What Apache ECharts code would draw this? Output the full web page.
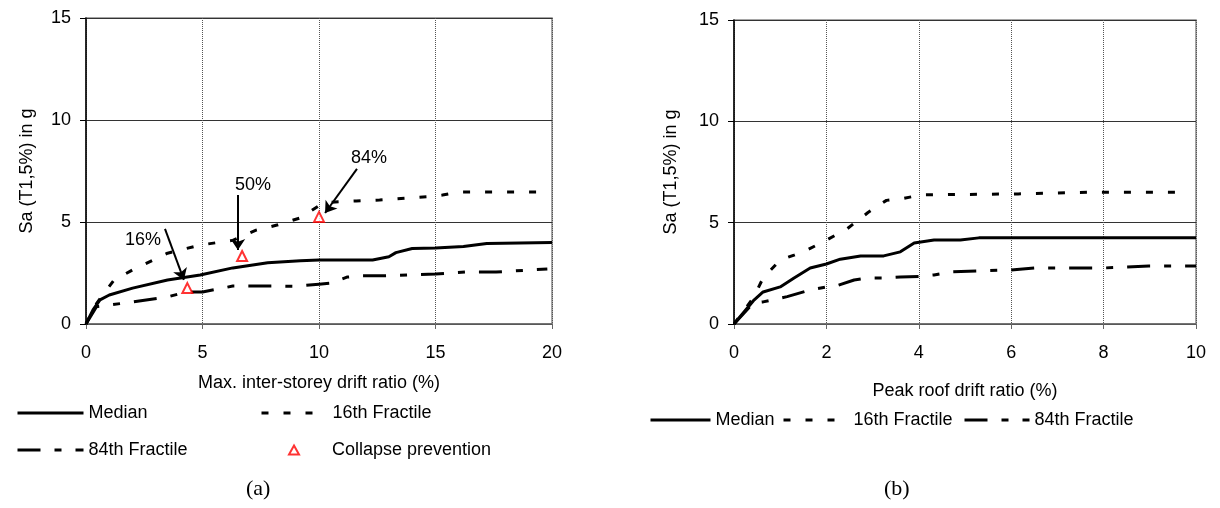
<!DOCTYPE html>
<html>
<head>
<meta charset="utf-8">
<script src="https://cdn.jsdelivr.net/npm/echarts@6/dist/echarts.min.js"></script>
<style>
html,body{margin:0;padding:0;background:#fff;}
#chart{width:1220px;height:508px;}
</style>
</head>
<body>
<div id="chart"></div>
<script>
// ---------- Data (a): Max. inter-storey drift ratio ----------
var medianA_x = [0, 0.3, 0.6, 1.0, 2.0, 3.5, 4.9, 6.3, 7.8, 9.2, 10.0, 12.3, 13.0, 13.3, 14.0, 15.0, 16.2, 17.2, 20.0];
var medianA_y = [0, 0.69, 1.18, 1.42, 1.76, 2.16, 2.4, 2.75, 3.0, 3.1, 3.14, 3.14, 3.3, 3.5, 3.7, 3.72, 3.8, 3.95, 4.0];
var frac16A_x = [0, 0.45, 1.2, 2.0, 3.5, 4.9, 6.3, 7.3, 8.2, 9.2, 10.2, 11.6, 12.6, 15.0, 15.3, 16.0, 19.4];
var frac16A_y = [0, 1.0, 2.15, 2.65, 3.47, 3.87, 4.1, 4.6, 4.85, 5.2, 5.95, 6.03, 6.08, 6.27, 6.32, 6.47, 6.47];
var frac84A_x = [0, 0.45, 1.0, 2.0, 3.5, 4.3, 5.0, 6.3, 8.3, 9.0, 10.0, 10.5, 11.2, 11.8, 12.8, 15.0, 16.3, 17.6, 19.8];
var frac84A_y = [0, 0.85, 0.93, 1.08, 1.33, 1.57, 1.57, 1.86, 1.86, 1.85, 1.95, 2.0, 2.3, 2.36, 2.36, 2.45, 2.55, 2.55, 2.7];
var collapseA_x = [4.35, 6.7, 10.0];
var collapseA_y = [1.76, 3.33, 5.25];

// annotations (a)
var annotLabels = ['16%', '50%', '84%'];
var annotLabel_x = [2.45, 7.17, 12.15];
var annotLabel_y = [4.1, 6.8, 8.14];
var arrowFrom_x = [3.39, 6.52, 11.63];
var arrowFrom_y = [4.66, 6.32, 7.6];
var arrowTo_x = [4.2, 6.52, 10.26];
var arrowTo_y = [2.16, 3.63, 5.44];

// ---------- Data (b): Peak roof drift ratio ----------
var medianB_x = [0, 0.42, 0.63, 1.0, 1.3, 1.65, 2.0, 2.3, 2.74, 3.24, 3.6, 3.9, 4.33, 4.9, 5.3, 10.0];
var medianB_y = [0, 1.15, 1.58, 1.83, 2.27, 2.76, 2.96, 3.2, 3.36, 3.36, 3.56, 4.0, 4.15, 4.15, 4.25, 4.25];
var frac16B_x = [0, 0.42, 0.63, 1.0, 1.3, 1.58, 2.0, 2.45, 2.9, 3.3, 3.67, 4.05, 6.15, 7.67, 9.76];
var frac16B_y = [0, 1.3, 2.27, 3.16, 3.4, 3.65, 4.14, 4.7, 5.5, 6.1, 6.2, 6.37, 6.42, 6.5, 6.5];
var frac84B_x = [0, 0.42, 0.63, 1.15, 1.65, 2.0, 2.15, 2.6, 2.9, 3.24, 3.6, 4.0, 4.33, 4.7, 6.0, 6.5, 7.96, 8.98, 10.0];
var frac84B_y = [0, 1.04, 1.09, 1.35, 1.68, 1.83, 1.83, 2.17, 2.27, 2.27, 2.32, 2.35, 2.42, 2.57, 2.67, 2.76, 2.76, 2.86, 2.86];

// axis ticks
var yTicks = [0, 5, 10, 15];
var xTicksA = [0, 5, 10, 15, 20];
var xTicksB = [0, 2, 4, 6, 8, 10];

var seriesNames = ['Median', '16th Fractile', '84th Fractile', 'Collapse prevention'];
var xNameA = 'Max. inter-storey drift ratio (%)';
var xNameB = 'Peak roof drift ratio (%)';
var yName = 'Sa (T1,5%) in g';

function zip(xs, ys) { return xs.map(function (x, i) { return [x, ys[i]]; }); }

var FONT = '"Liberation Sans", Arial, sans-serif';
var dash16 = [7, 15];
var dash84 = [23, 14, 7, 14];

function xAxisOf(gi, ticks, name, gap) {
  return {
    gridIndex: gi, type: 'value', min: ticks[0], max: ticks[ticks.length - 1],
    interval: ticks[1] - ticks[0],
    name: name, nameLocation: 'middle', nameGap: gap,
    nameTextStyle: { fontFamily: FONT, fontSize: 18, color: '#000' },
    axisLine: { show: true, onZero: false, lineStyle: { color: '#666', width: 1.5 } },
    axisTick: { show: true, inside: false, length: 5, lineStyle: { color: '#666', width: 1 } },
    axisLabel: { fontFamily: FONT, fontSize: 18, color: '#000', margin: 20 },
    splitLine: { show: true, lineStyle: { color: '#555', width: 1, type: [1, 1] } }
  };
}
function yAxisOf(gi, gap) {
  return {
    gridIndex: gi, type: 'value', min: yTicks[0], max: yTicks[yTicks.length - 1], interval: 5,
    name: yName, nameLocation: 'middle', nameGap: gap,
    nameTextStyle: { fontFamily: FONT, fontSize: 18, color: '#000' },
    axisLine: { show: true, onZero: false, lineStyle: { color: '#000', width: 1.5 } },
    axisTick: { show: true, inside: false, length: 6, lineStyle: { color: '#000', width: 1 } },
    axisLabel: { fontFamily: FONT, fontSize: 18, color: '#000', margin: 15 },
    splitLine: { show: true, lineStyle: { color: '#333', width: 1, type: 'solid' } }
  };
}
function lineSeries(name, gi, xs, ys, type) {
  return {
    name: name, type: 'line', xAxisIndex: gi, yAxisIndex: gi,
    data: zip(xs, ys), showSymbol: false, symbol: 'none', smooth: false,
    lineStyle: { color: '#000', width: 3, type: type },
    itemStyle: { color: '#000' },
    clip: true, z: 3
  };
}

var markLineData = arrowFrom_x.map(function (x, i) {
  return [{ coord: [x, arrowFrom_y[i]] }, { coord: [arrowTo_x[i], arrowTo_y[i]] }];
});

var legendBase = {
  orient: 'horizontal', itemGap: 5, selectedMode: false, padding: 0,
  textStyle: { fontFamily: FONT, fontSize: 18, color: '#000' }
};
function lineLegend(name, left, top, w) {
  return Object.assign({}, legendBase, {
    data: [name], left: left, top: top, itemWidth: w, itemHeight: 14,
    itemStyle: { color: 'rgba(0,0,0,0)', borderWidth: 0, opacity: 0 },
    lineStyle: { width: 3, color: '#000' }
  });
}

var option = {
  animation: false,
  backgroundColor: '#fff',
  textStyle: { fontFamily: FONT },
  grid: [
    { left: 86, top: 18, width: 466, height: 306, show: true, borderColor: '#888', borderWidth: 1.5, backgroundColor: 'transparent' },
    { left: 734, top: 20, width: 462, height: 304, show: true, borderColor: '#888', borderWidth: 1.5, backgroundColor: 'transparent' }
  ],
  xAxis: [xAxisOf(0, xTicksA, xNameA, 50), xAxisOf(1, xTicksB, xNameB, 58)],
  yAxis: [yAxisOf(0, 50), yAxisOf(1, 54)],
  legend: [
    lineLegend(seriesNames[0], 16, 404, 66),
    lineLegend(seriesNames[1], 260, 404, 66),
    lineLegend(seriesNames[2], 16, 441, 66),
    Object.assign({}, legendBase, {
      data: [seriesNames[3]], left: 288, top: 441, itemWidth: 10, itemHeight: 9,
      textStyle: { fontFamily: FONT, fontSize: 18, color: '#000', padding: [0, 0, 0, 28] }
    }),
    lineLegend(seriesNames[0], 649, 411, 60),
    lineLegend(seriesNames[1], 782, 411, 65),
    lineLegend(seriesNames[2], 963, 411, 65)
  ],
  graphic: [
    { type: 'text', left: 246, top: 478, style: { text: '(a)', font: '22px "Liberation Serif", "Times New Roman", serif', fill: '#000' } },
    { type: 'text', left: 884, top: 478, style: { text: '(b)', font: '22px "Liberation Serif", "Times New Roman", serif', fill: '#000' } }
  ],
  series: [
    lineSeries(seriesNames[0], 0, medianA_x, medianA_y, 'solid'),
    lineSeries(seriesNames[1], 0, frac16A_x, frac16A_y, dash16),
    lineSeries(seriesNames[2], 0, frac84A_x, frac84A_y, dash84),
    {
      name: seriesNames[3], type: 'scatter', xAxisIndex: 0, yAxisIndex: 0,
      data: zip(collapseA_x, collapseA_y), symbol: 'triangle', symbolSize: 10,
      itemStyle: { color: '#fff', borderColor: '#ff0000', borderWidth: 2 }, z: 5
    },
    {
      name: 'annotations', type: 'scatter', xAxisIndex: 0, yAxisIndex: 0,
      data: annotLabel_x.map(function (x, i) { return { value: [x, annotLabel_y[i]], name: annotLabels[i] }; }),
      symbolSize: 0, itemStyle: { color: '#000', opacity: 1 }, silent: true, z: 6,
      label: { show: true, position: 'inside', formatter: '{b}', fontFamily: FONT, fontSize: 18, color: '#000',
               textBorderWidth: 0, textBorderColor: 'transparent', opacity: 1 },
      markLine: {
        silent: true, animation: false, symbol: ['none', 'arrow'], symbolSize: 11, precision: 4,
        label: { show: false },
        lineStyle: { color: '#000', width: 2, type: 'solid' },
        emphasis: { disabled: true },
        data: markLineData
      }
    },
    lineSeries(seriesNames[0], 1, medianB_x, medianB_y, 'solid'),
    lineSeries(seriesNames[1], 1, frac16B_x, frac16B_y, dash16),
    lineSeries(seriesNames[2], 1, frac84B_x, frac84B_y, dash84)
  ]
};

var chart = echarts.init(document.getElementById('chart'), null, { renderer: 'canvas' });
chart.setOption(option);
</script>
</body>
</html>
